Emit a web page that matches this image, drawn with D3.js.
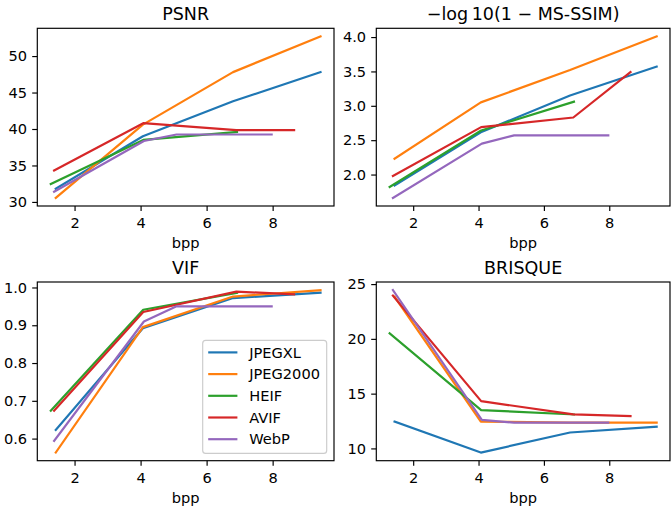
<!DOCTYPE html>
<html lang="en">
<head>
<meta charset="UTF-8">
<title>Codec comparison</title>
<script src="https://d3js.org/d3.v7.min.js"></script>
<style>
  body { margin: 0; background: #fff; }
  text { font-family: "DejaVu Sans", sans-serif; }
</style>
</head>
<body>
<script>
// codecs and their bpp points
var codecs = ["JPEGXL", "JPEG2000", "HEIF", "AVIF", "WebP"];
var colors = ["#1f77b4", "#ff7f0e", "#2ca02c", "#d62728", "#9467bd"];
var bpp = [
  [1.43, 4.07, 6.8, 9.45],
  [1.43, 4.07, 6.8, 9.45],
  [1.28, 4.08, 6.92],
  [1.38, 4.08, 6.9, 8.65],
  [1.38, 4.1, 5.09, 7.97]
];

var psnr = [
  [31.8, 39.0, 43.8, 47.8],
  [30.55, 40.6, 47.8, 52.7],
  [32.45, 38.5, 39.6],
  [34.3, 40.8, 39.85, 39.85],
  [31.4, 38.35, 39.25, 39.25]
];
var msssim = [
  [1.84, 2.615, 3.15, 3.57],
  [2.23, 3.05, 3.52, 4.01],
  [1.82, 2.64, 3.06],
  [1.98, 2.69, 2.83, 3.49],
  [1.66, 2.45, 2.57, 2.57]
];
var vif = [
  [0.623, 0.892, 0.972, 0.986],
  [0.563, 0.895, 0.976, 0.993],
  [0.674, 0.941, 0.986],
  [0.674, 0.935, 0.989, 0.982],
  [0.594, 0.91, 0.95, 0.95]
];
var brisque = [
  [12.45, 9.62, 11.45, 11.98],
  [23.85, 12.45, 12.35, 12.35],
  [20.5, 13.5, 13.1],
  [23.95, 14.32, 13.1, 12.95],
  [24.45, 12.6, 12.35, 12.35]
];

var xTicks = [2, 4, 6, 8];
var psnrTicks = [30, 35, 40, 45, 50];
var msssimTicks = [2.0, 2.5, 3.0, 3.5, 4.0];
var vifTicks = [0.6, 0.7, 0.8, 0.9, 1.0];
var brisqueTicks = [10, 15, 20, 25];

var width = 671, height = 507;
var fs = 14.6;

var svg = d3.select("body").append("svg")
    .attr("width", width)
    .attr("height", height);

// pad extent by 5% like matplotlib
function padded(arrs) {
    var all = [].concat.apply([], arrs);
    var e = d3.extent(all);
    var m = (e[1] - e[0]) * 0.05;
    return [e[0] - m, e[1] + m];
}

function panel(box, title, values, yTicks, fmt, legend) {
    var x = d3.scaleLinear().domain(padded(bpp)).range([box.x0, box.x1]);
    var y = d3.scaleLinear().domain(padded(values)).range([box.y1, box.y0]);
    var g = svg.append("g");

    var line = d3.line()
        .x(function(d) { return x(d[0]); })
        .y(function(d) { return y(d[1]); });

    codecs.forEach(function(c, i) {
        var pts = d3.zip(bpp[i], values[i]);
        g.append("path")
            .attr("d", line(pts))
            .attr("fill", "none")
            .attr("stroke", colors[i])
            .attr("stroke-width", 2.19)
            .attr("stroke-linejoin", "round")
            .attr("stroke-linecap", "square");
    });

    var xa = g.append("g")
        .attr("transform", "translate(0," + box.y1 + ")")
        .call(d3.axisBottom(x).tickValues(xTicks).tickSize(5.1).tickPadding(5.1).tickFormat(d3.format("d")));
    xa.selectAll("text").attr("y", 22.3).attr("dy", null);
    var ya = g.append("g")
        .attr("transform", "translate(" + box.x0 + ",0)")
        .call(d3.axisLeft(y).tickValues(yTicks).tickSize(5.1).tickPadding(5.1).tickFormat(d3.format(fmt)));
    [xa, ya].forEach(function(a) {
        a.select(".domain").remove();
        a.selectAll("line").attr("stroke", "#000").attr("stroke-width", 1.17);
        a.selectAll("text").attr("fill", "#000").style("font-size", fs + "px")
            .style("font-family", "DejaVu Sans");
    });

    g.append("rect")
        .attr("x", box.x0).attr("y", box.y0)
        .attr("width", box.x1 - box.x0).attr("height", box.y1 - box.y0)
        .attr("fill", "none").attr("stroke", "#000").attr("stroke-width", 1.17);

    g.append("text")
        .attr("x", (box.x0 + box.x1) / 2).attr("y", box.y0 - 8)
        .attr("text-anchor", "middle")
        .style("font-size", "17.5px")
        .text(title);

    g.append("text")
        .attr("x", (box.x0 + box.x1) / 2).attr("y", box.y1 + 42)
        .attr("text-anchor", "middle")
        .style("font-size", fs + "px")
        .text("bpp");

    if (legend) {
        var lw = 124, lh = 113;
        var lx = box.x1 - 7.3 - lw, ly = box.y1 - 7.3 - lh;
        var lg = g.append("g");
        lg.append("rect")
            .attr("x", lx).attr("y", ly).attr("width", lw).attr("height", lh)
            .attr("rx", 3)
            .attr("fill", "rgba(255,255,255,0.8)")
            .attr("stroke", "#cccccc").attr("stroke-width", 1.17);
        codecs.forEach(function(c, i) {
            var cy = ly + 12 + i * 21.7;
            lg.append("line")
                .attr("x1", lx + 5.5).attr("x2", lx + 34.7)
                .attr("y1", cy).attr("y2", cy)
                .attr("stroke", colors[i]).attr("stroke-width", 2.19);
            lg.append("text")
                .attr("x", lx + 46.5).attr("y", cy)
                .attr("dy", "0.36em")
                .style("font-size", fs + "px")
                .text(c);
        });
    }
}

panel({x0: 37.3, x1: 334, y0: 28.3, y1: 206}, "PSNR", psnr, psnrTicks, "d", false);
panel({x0: 376.3, x1: 670, y0: 28.3, y1: 206}, "\u2212log\u200910(1 \u2212 MS-SSIM)", msssim, msssimTicks, ".1f", false);
panel({x0: 37.3, x1: 334, y0: 282, y1: 460.7}, "VIF", vif, vifTicks, ".1f", true);
panel({x0: 376.3, x1: 670, y0: 282, y1: 460.7}, "BRISQUE", brisque, brisqueTicks, "d", false);
</script>
</body>
</html>
